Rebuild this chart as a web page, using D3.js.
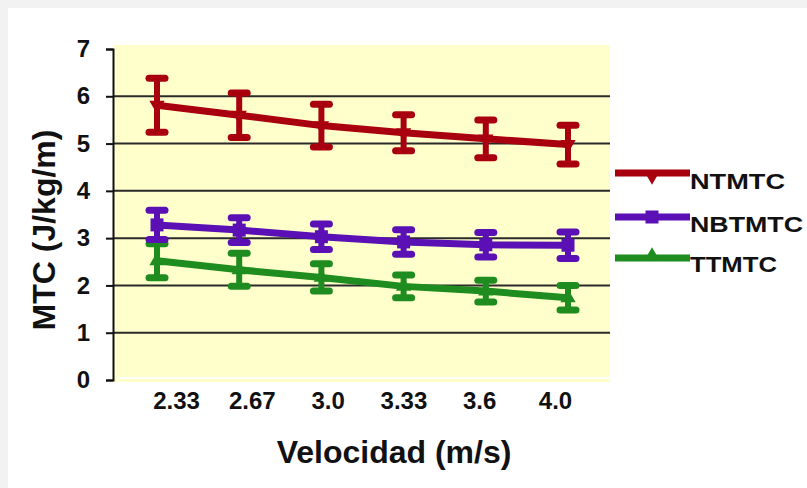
<!DOCTYPE html>
<html>
<head>
<meta charset="utf-8">
<script src="https://cdn.jsdelivr.net/npm/d3@7"></script>
<style>
  body { margin: 0; background: #f2f2f2; }
  svg { display: block; }
  text { font-family: "Liberation Sans", Arial, sans-serif; font-weight: bold; fill: #111; }
</style>
</head>
<body>
<script>
// ---- data ----
const categories = ["2.33", "2.67", "3.0", "3.33", "3.6", "4.0"];
const seriesNames = ["NTMTC", "NBTMTC", "TTMTC"];
const ntmtcMean = [5.81, 5.60, 5.38, 5.23, 5.10, 4.98];
const ntmtcErr  = [0.57, 0.47, 0.45, 0.38, 0.40, 0.41];
const nbtmtcMean = [3.28, 3.17, 3.03, 2.92, 2.86, 2.85];
const nbtmtcErr  = [0.31, 0.26, 0.27, 0.26, 0.26, 0.28];
const ttmtcMean = [2.52, 2.33, 2.17, 1.98, 1.88, 1.74];
const ttmtcErr  = [0.36, 0.35, 0.29, 0.24, 0.23, 0.26];
const yTicks = [0, 1, 2, 3, 4, 5, 6, 7];
const seriesColors = ["#a8000f", "#5a10b4", "#1f8c1f"];
const xTitle = "Velocidad (m/s)";
const yTitle = "MTC (J/kg/m)";

const series = [
  { name: seriesNames[0], mean: ntmtcMean, err: ntmtcErr, color: seriesColors[0], marker: "down" },
  { name: seriesNames[1], mean: nbtmtcMean, err: nbtmtcErr, color: seriesColors[1], marker: "square" },
  { name: seriesNames[2], mean: ttmtcMean, err: ttmtcErr, color: seriesColors[2], marker: "up" }
];

const W = 807, H = 488;
const svg = d3.select("body").append("svg").attr("width", W).attr("height", H);

// panel
svg.append("rect").attr("x", 8).attr("y", 8).attr("width", W - 8).attr("height", H - 8).attr("fill", "#ffffff");

const plotLeft = 113, plotRight = 610, plotTop = 45, plotBottom = 381;
svg.append("rect").attr("x", plotLeft + 1).attr("y", plotTop)
  .attr("width", plotRight - plotLeft - 1).attr("height", plotBottom - plotTop + 1)
  .attr("fill", "#ffffcc");

const y = d3.scaleLinear().domain([0, 7]).range([380, 49]);
const x = d3.scalePoint().domain(categories).range([157, 568]);
const xLabel = d3.scalePoint().domain(categories).range([176, 555]);

// gridlines
svg.append("g").selectAll("line").data(yTicks.filter(t => t > 0 && t < 7)).join("line")
  .attr("x1", plotLeft).attr("x2", plotRight)
  .attr("y1", d => y(d)).attr("y2", d => y(d))
  .attr("stroke", "#2a2a2a").attr("stroke-width", 2);

// white x baseline
svg.append("line").attr("x1", plotLeft + 4).attr("x2", plotRight).attr("y1", 378).attr("y2", 378)
  .attr("stroke", "#ffffff").attr("stroke-width", 2);

// y axis
const yAxis = svg.append("g").attr("transform", `translate(${plotLeft},0)`)
  .call(d3.axisLeft(y).tickValues(yTicks).tickSize(7).tickPadding(16).tickFormat(d3.format("d")));
yAxis.select(".domain").attr("stroke", "#111").attr("stroke-width", 2);
yAxis.selectAll(".tick line").attr("stroke", "#111").attr("stroke-width", 2);
yAxis.selectAll("text").style("font-size", "24px").attr("fill", "#111");

// x labels
const xAxis = svg.append("g").attr("transform", "translate(0,392)")
  .call(d3.axisBottom(xLabel).tickSize(0).tickPadding(0));
xAxis.select(".domain").remove();
xAxis.selectAll("text").style("font-size", "24px").attr("fill", "#111");

// titles
svg.append("text").attr("x", 394).attr("y", 463).attr("text-anchor", "middle")
  .style("font-size", "32px").text(xTitle);
svg.append("text").attr("transform", "translate(55,230) rotate(-90)").attr("text-anchor", "middle")
  .style("font-size", "32px").text(yTitle);

// markers
function markerPath(type, s) {
  if (type === "square") return d3.symbol(d3.symbolSquare, s * s)();
  return d3.symbol(d3.symbolTriangle, s * s * 0.6)();
}

const line = d3.line().x((d, i) => x(categories[i])).y(d => y(d));

const drawOrder = [series[2], series[1], series[0]];
drawOrder.forEach(s => {
  const g = svg.append("g");
  g.append("path").datum(s.mean).attr("d", line)
    .attr("fill", "none").attr("stroke", s.color).attr("stroke-width", 7).attr("stroke-linejoin", "round");
  const pts = s.mean.map((m, i) => ({ c: categories[i], m, e: s.err[i] }));
  const eb = g.selectAll("g.eb").data(pts).join("g").attr("class", "eb");
  eb.append("line").attr("x1", d => x(d.c)).attr("x2", d => x(d.c))
    .attr("y1", d => y(d.m - d.e)).attr("y2", d => y(d.m + d.e))
    .attr("stroke", s.color).attr("stroke-width", 6);
  [-1, 1].forEach(sign => {
    eb.append("line").attr("x1", d => x(d.c) - 8).attr("x2", d => x(d.c) + 8)
      .attr("y1", d => y(d.m + sign * d.e)).attr("y2", d => y(d.m + sign * d.e))
      .attr("stroke", s.color).attr("stroke-width", 7).attr("stroke-linecap", "round");
  });
  eb.append("path").attr("d", markerPath(s.marker, 13))
    .attr("transform", d => `translate(${x(d.c)},${y(d.m)}) rotate(${s.marker === "down" ? 180 : 0})`)
    .attr("fill", s.color);
});

// legend
const legY = [173, 217, 258];
const legTextY = [189, 232, 272];
const legLen = [95, 113, 87];
series.forEach((s, i) => {
  const g = svg.append("g");
  g.append("line").attr("x1", 615).attr("x2", 690).attr("y1", legY[i]).attr("y2", legY[i])
    .attr("stroke", s.color).attr("stroke-width", 7);
  g.append("path").attr("d", markerPath(s.marker, 13))
    .attr("transform", `translate(652,${legY[i] + (s.marker === "down" ? 3 : s.marker === "up" ? -2 : 0)}) rotate(${s.marker === "down" ? 180 : 0})`)
    .attr("fill", s.color);
  g.append("text").attr("x", 690).attr("y", legTextY[i])
    .attr("textLength", legLen[i]).attr("lengthAdjust", "spacingAndGlyphs")
    .style("font-size", "22px").text(s.name);
});
</script>
</body>
</html>
